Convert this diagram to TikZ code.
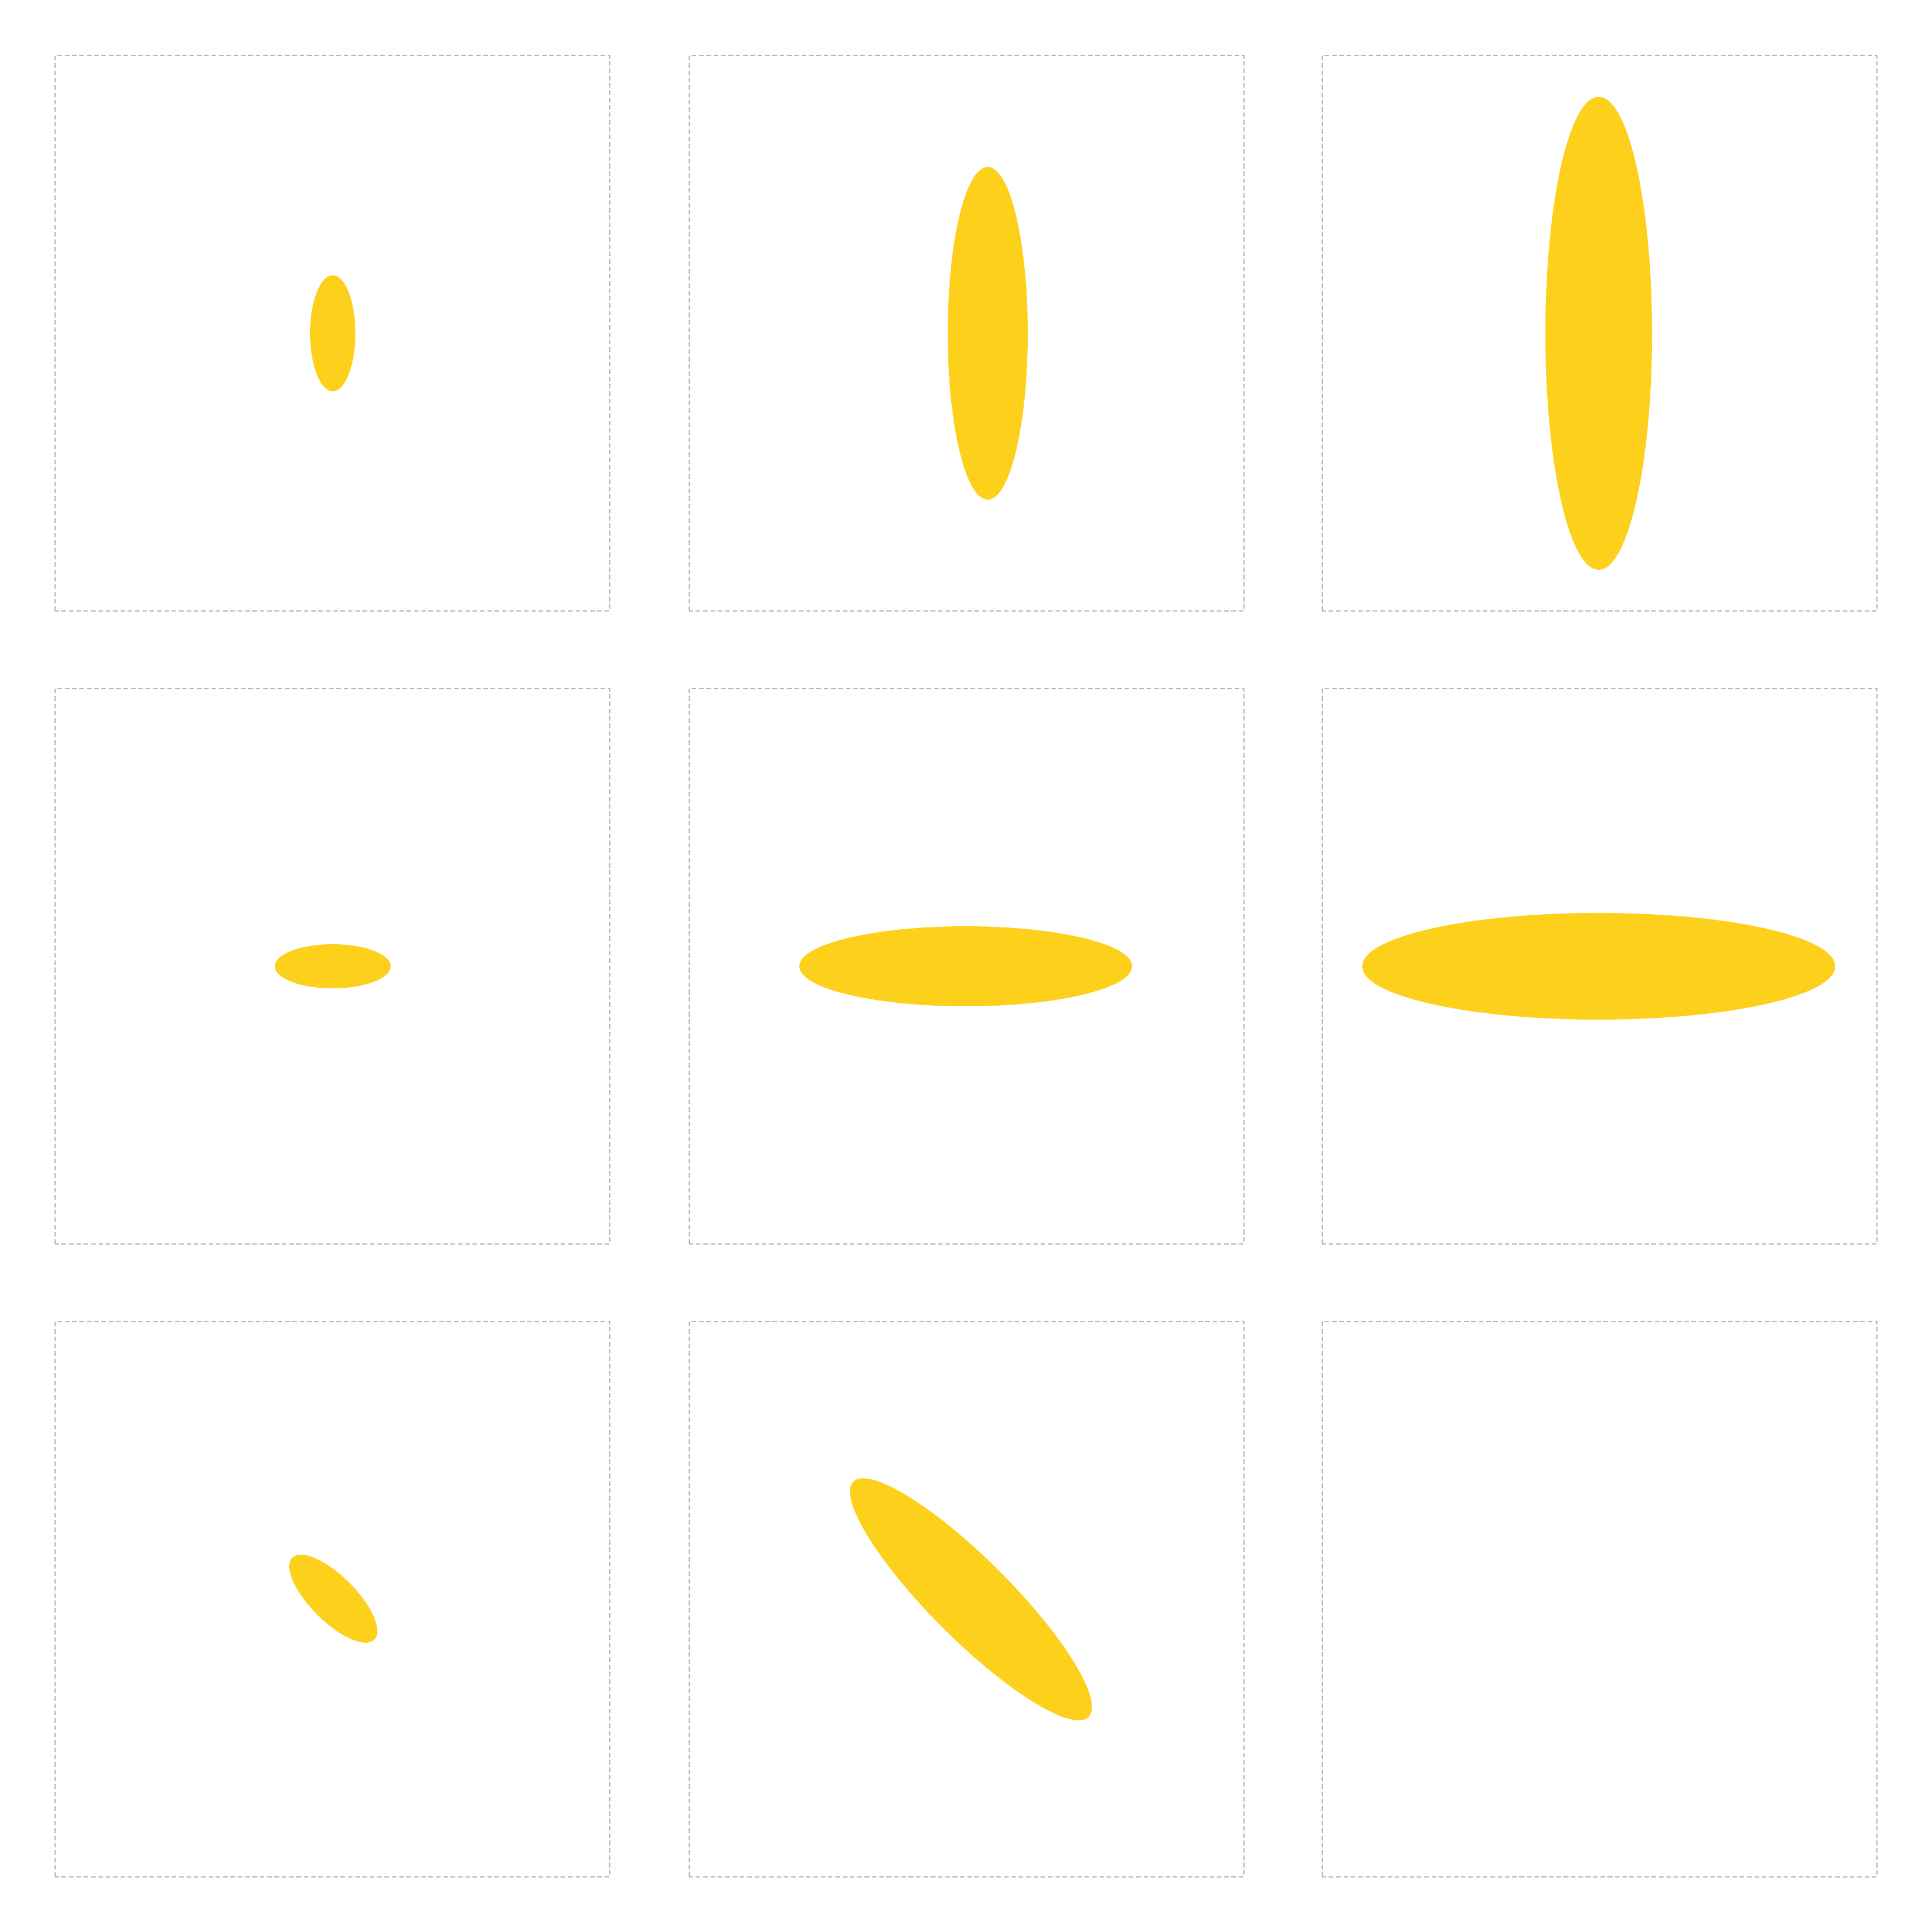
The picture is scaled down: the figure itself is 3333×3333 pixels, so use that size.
\documentclass[tikz,border=0pt]{standalone}
\usepackage{xcolor}
\usepackage{tikz}

\definecolor{blobyellow}{HTML}{FDD01C}
\definecolor{framegray}{HTML}{B4B4B4}

\begin{document}
\begin{tikzpicture}[
    x=0.01cm, y=0.01cm,
    frame/.style={draw=framegray, line width=0.6pt,
      dash pattern=on 2.3pt off 1.3pt},
    blob/.style={fill=blobyellow, draw=none},
  ]
  \useasboundingbox (0,0) rectangle (3333,3333);

  % Frames: 3x3 grid
  \foreach \px in {95,1189,2281} {
    \foreach \py in {95,1187,2279} {
      \draw[frame] (\px,\py) rectangle ++(957,958);
    }
  }

  % Row 1: growing vertically
  \fill[blob] (574,2758) ellipse [x radius=39, y radius=100];
  \fill[blob] (1704,2758) ellipse [x radius=69, y radius=287];
  \fill[blob] (2758,2758) ellipse [x radius=92, y radius=408];

  % Row 2: growing horizontally
  \fill[blob] (574,1666) ellipse [x radius=100, y radius=38];
  \fill[blob] (1666,1666) ellipse [x radius=287, y radius=69];
  \fill[blob] (2758,1666) ellipse [x radius=408, y radius=92];

  % Row 3: rotated
  \fill[blob, rotate around={-45:(575,575)}] (575,575) ellipse [x radius=100, y radius=39];
  \fill[blob, rotate around={-45:(1675,574)}] (1675,574) ellipse [x radius=287, y radius=69];
\end{tikzpicture}
\end{document}
